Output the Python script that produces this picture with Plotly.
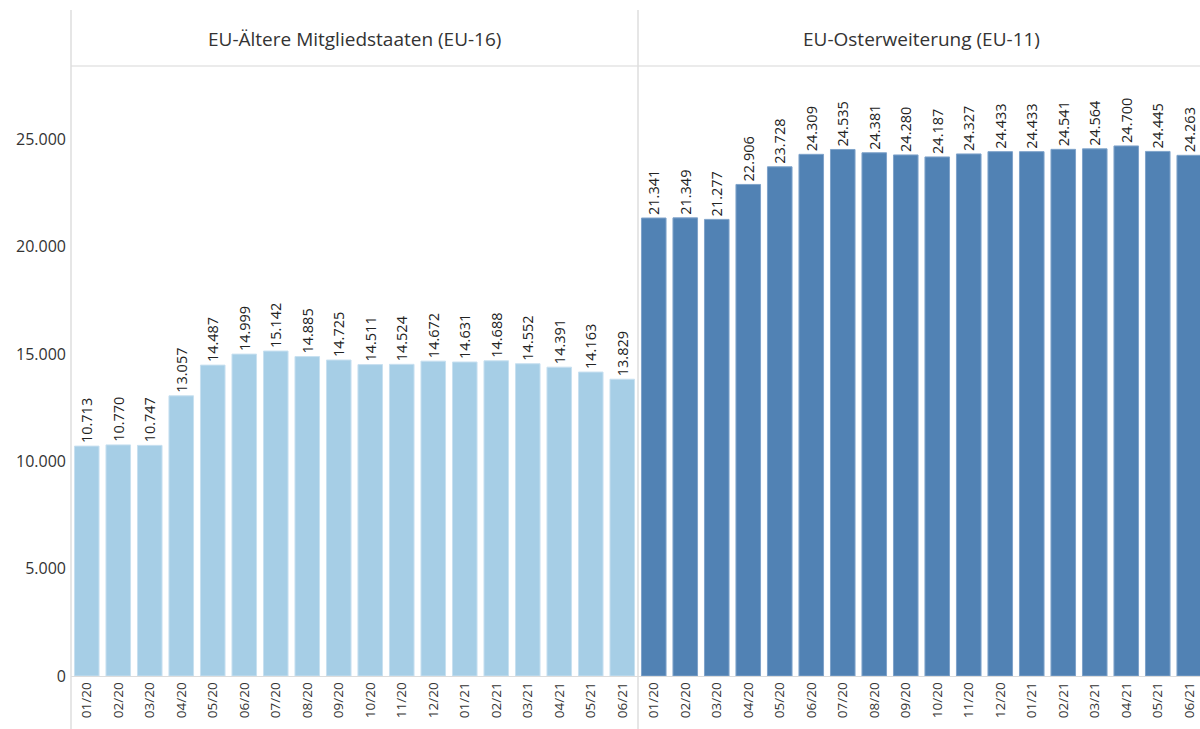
import plotly.graph_objects as go

months = ["01/20", "02/20", "03/20", "04/20", "05/20", "06/20", "07/20", "08/20", "09/20",
          "10/20", "11/20", "12/20", "01/21", "02/21", "03/21", "04/21", "05/21", "06/21"]
eu16_values = [10713, 10770, 10747, 13057, 14487, 14999, 15142, 14885, 14725,
               14511, 14524, 14672, 14631, 14688, 14552, 14391, 14163, 13829]
eu11_values = [21341, 21349, 21277, 22906, 23728, 24309, 24535, 24381, 24280,
               24187, 24327, 24433, 24433, 24541, 24564, 24700, 24445, 24263]
panel_titles = ["EU-Ältere Mitgliedstaaten (EU-16)", "EU-Osterweiterung (EU-11)"]
y_ticks = [0, 5000, 10000, 15000, 20000, 25000]

FONT = "Open Sans"
W, H = 1200, 729
ml, mt = 71, 66
mb = H - 676
plot_w = W - ml
slot = 31.5
split = (len(months) * slot) / plot_w
plot_h = H - mt - mb

fig = go.Figure()
fig.add_trace(go.Bar(
    x=list(range(len(months))), y=eu16_values, xaxis="x", yaxis="y",
    marker=dict(color="#a6cee6", line=dict(color="#c8e0f0", width=1)),
    text=eu16_values, texttemplate="%{y:,.0f}", textposition="outside",
    textangle=-90, constraintext="none", cliponaxis=False,
    textfont=dict(family=FONT, size=14.5, color="#222"), showlegend=False,
))
fig.add_trace(go.Bar(
    x=list(range(len(months))), y=eu11_values, xaxis="x2", yaxis="y",
    marker=dict(color="#5182b4", line=dict(color="#7fa3ca", width=1)),
    text=eu11_values, texttemplate="%{y:,.0f}", textposition="outside",
    textangle=-90, constraintext="none", cliponaxis=False,
    textfont=dict(family=FONT, size=14.5, color="#222"), showlegend=False,
))

xcommon = dict(
    tickmode="array", tickvals=list(range(len(months))), ticktext=months,
    tickangle=-90, tickfont=dict(family=FONT, size=13.5, color="#333"),
    showgrid=False, zeroline=False, showline=True, linecolor="#dcdcdc", linewidth=1,
    ticks="", anchor="y", fixedrange=True,
)
fig.update_layout(
    width=W, height=H,
    margin=dict(l=ml, r=0, t=mt, b=mb),
    paper_bgcolor="white", plot_bgcolor="white",
    separators=",.",
    bargap=0.22,
    xaxis=dict(domain=[0, split], range=[-0.5, len(months) - 0.5], **xcommon),
    xaxis2=dict(domain=[split, 1], range=[-0.5, -0.5 + (1 - split) * plot_w / slot], **xcommon),
    yaxis=dict(range=[0, 28425], tickvals=y_ticks, tickformat=",.0f",
               tickfont=dict(family=FONT, size=16, color="#333"),
               showgrid=False, zeroline=False, showline=False, ticks="",
               ticklabelstandoff=4),
    font=dict(family=FONT),
)

# panel headers
for i, t in enumerate(panel_titles):
    x0 = 0 if i == 0 else split
    x1 = split if i == 0 else (split + len(months) * slot / plot_w)
    fig.add_annotation(text=t, xref="paper", yref="paper", x=(x0 + x1) / 2,
                       y=1 + (66 - 39) / plot_h, yanchor="middle", xanchor="center",
                       showarrow=False, font=dict(family=FONT, size=19, color="#333"))

# separators
fig.add_shape(type="line", xref="paper", yref="paper", x0=0, x1=1, y0=1, y1=1,
              line=dict(color="#ebebeb", width=2))
for xv in [0, split]:
    fig.add_shape(type="line", xref="paper", yref="paper", x0=xv, x1=xv,
                  y0=-mb / plot_h, y1=1 + (66 - 10) / plot_h,
                  line=dict(color="#dedede", width=1.5))

fig.write_html("out.html", config={"displayModeBar": False},
               post_script="document.body.style.margin='0';document.body.style.overflow='hidden';")
